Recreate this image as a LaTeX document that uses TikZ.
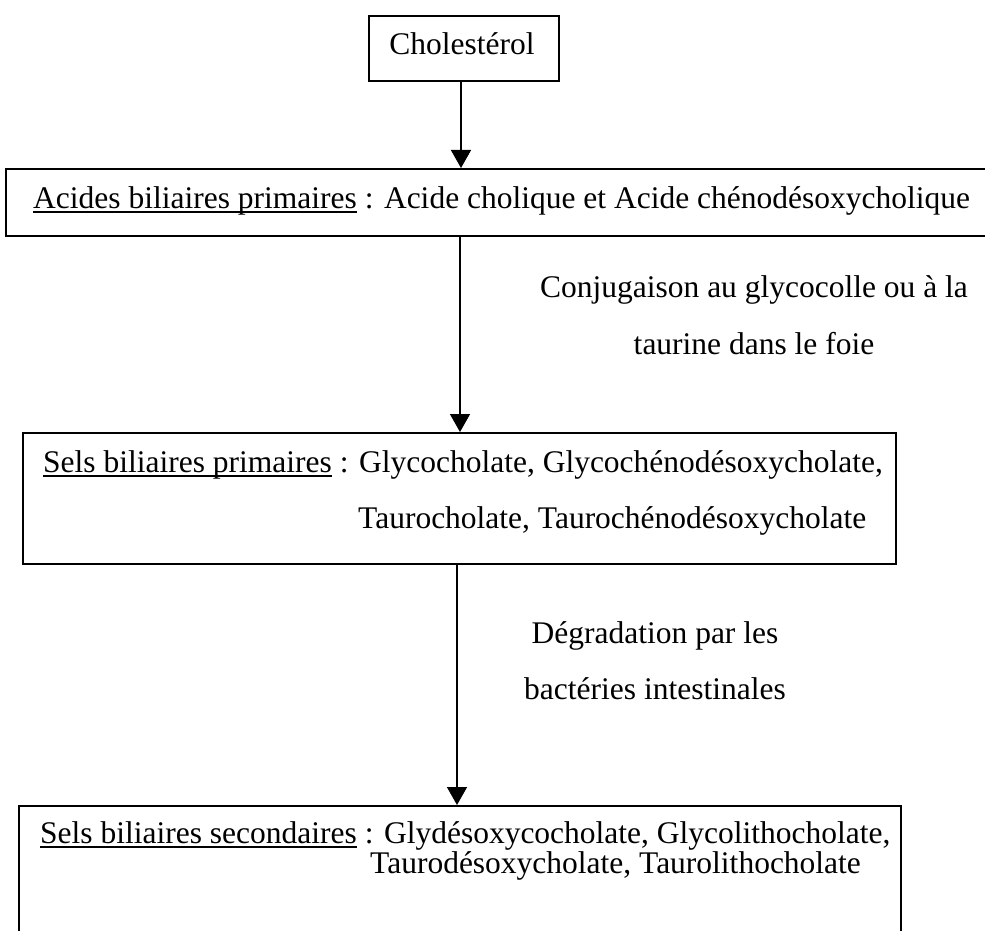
\documentclass[tikz,border=0pt]{standalone}
\usepackage{fontspec}
\setmainfont{Liberation Serif}
\usetikzlibrary{arrows.meta}
\newcommand{\ulx}[1]{\setbox0\hbox{#1}\rlap{\rule[-4.5pt]{\wd0}{1.5pt}}\box0\relax}
\begin{document}
\begin{tikzpicture}[x=1pt,y=-1pt,
  font=\fontsize{31.5}{38}\selectfont,
  box/.style={draw, line width=1.8pt, inner sep=0pt, anchor=north west},
  txt/.style={inner sep=0pt, anchor=base west},
  lbl/.style={inner sep=0pt, anchor=base},
  arr/.style={line width=1.5pt, -{Triangle[length=18pt,width=20pt]}}]
\useasboundingbox (0,0) rectangle (985,931);
% boxes
\node[box, minimum width=190pt, minimum height=65pt] (b1) at (368,15) {};
\node[box, minimum width=995pt, minimum height=67pt] (b2) at (5,168) {};
\node[box, minimum width=873pt, minimum height=131pt] (b3) at (22,432) {};
\node[box, minimum width=882pt, minimum height=140pt] (b4) at (18,805) {};
% texts
\node[lbl] (t1) at (462,55) {Cholestérol};
\node[txt] (t2) at (33,208) {\ulx{Acides biliaires primaires} : Acide cholique et Acide chénodésoxycholique};
\node[txt] (t3a) at (43,472) {\ulx{Sels biliaires primaires} : Glycocholate, Glycochénodésoxycholate,};
\node[txt] (t3b) at (358,528) {Taurocholate, Taurochénodésoxycholate};
\node[txt] (t4a) at (40,843) {\ulx{Sels biliaires secondaires} : Glydésoxycocholate, Glycolithocholate,};
\node[txt] (t4b) at (370,873) {Taurodésoxycholate, Taurolithocholate};
% labels
\node[lbl] (l1a) at (754,297) {Conjugaison au glycocolle ou à la};
\node[lbl] (l1b) at (754,354) {taurine dans le foie};
\node[lbl] (l2a) at (655,643) {Dégradation par les};
\node[lbl] (l2b) at (655,699) {bactéries intestinales};
% arrows
\coordinate (x1) at (461,0);
\coordinate (x2) at (460,0);
\coordinate (x3) at (457,0);
\draw[arr] (b1.south -| x1) -- (b2.north -| x1);
\draw[arr] (b2.south -| x2) -- (b3.north -| x2);
\draw[arr] (b3.south -| x3) -- (b4.north -| x3);
\end{tikzpicture}
\end{document}
